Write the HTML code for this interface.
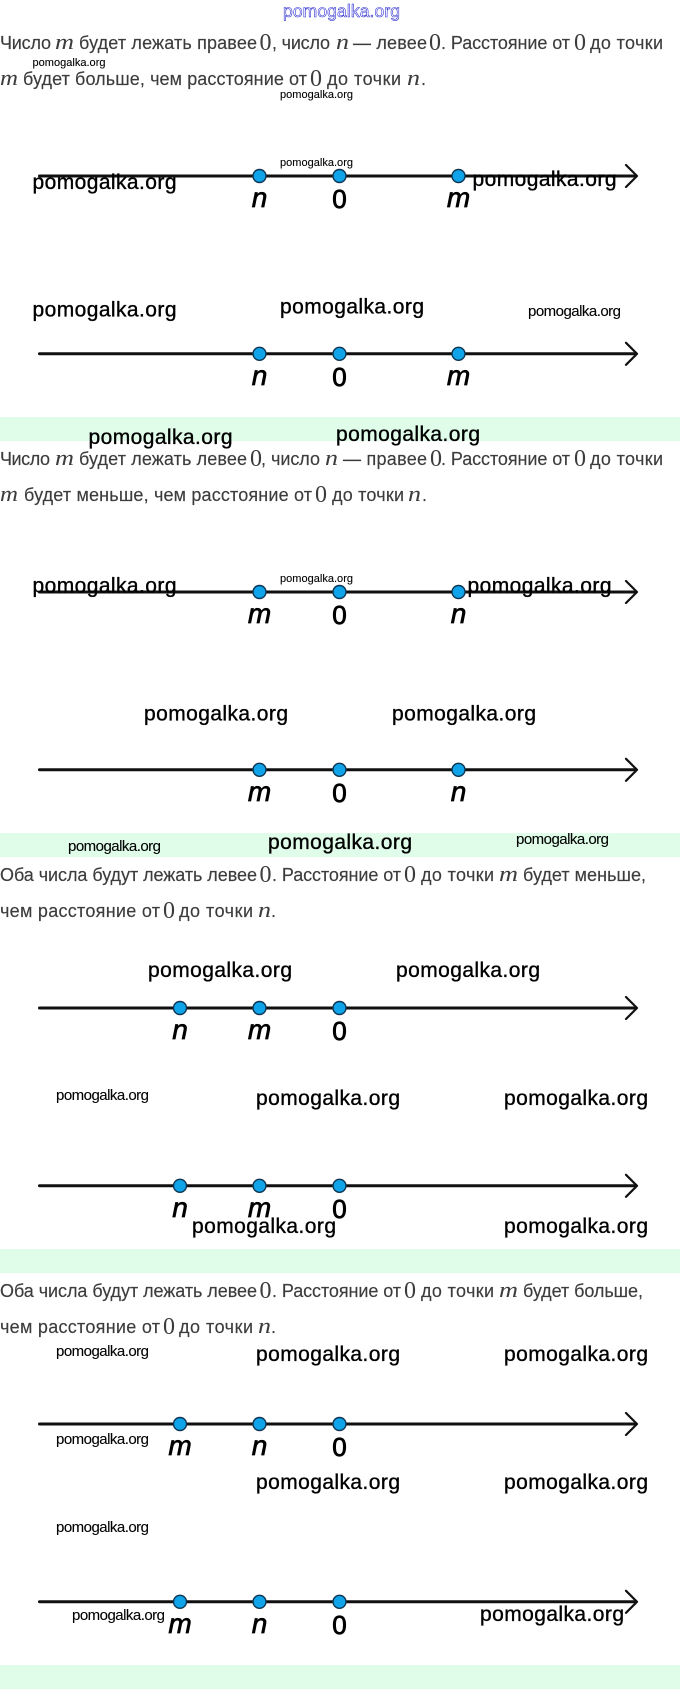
<!DOCTYPE html>
<html><head><meta charset="utf-8"><style>
html,body{margin:0;padding:0;background:#fff}
svg{display:block}
.t{font-family:"Liberation Sans",sans-serif;font-size:18px;fill:#3c3c3c;stroke:#3c3c3c;stroke-width:.15}
.m{font-family:"Liberation Serif",serif;font-size:22px;font-style:italic;fill:#3c3c3c}
.z{font-family:"Liberation Serif",serif;font-size:24px;fill:#3c3c3c}
.b{font-family:"Liberation Sans",sans-serif;font-size:21px;fill:#000;stroke:#000;stroke-width:.35}
.d{font-family:"Liberation Sans",sans-serif;font-size:15px;fill:#000;stroke:#000;stroke-width:.1}
.s{font-family:"Liberation Sans",sans-serif;font-size:11px;fill:#000;stroke:#000;stroke-width:.1}
.l{font-family:"Liberation Sans",sans-serif;font-size:28px;font-style:italic;fill:#000;text-anchor:middle;stroke:#000;stroke-width:.7}
.o{font-family:"Liberation Sans",sans-serif;font-size:26px;fill:#000;text-anchor:middle;stroke:#000;stroke-width:.8}
.a{fill:none;stroke:#111;stroke-width:3;stroke-linecap:round}
.h{fill:none;stroke:#111;stroke-width:2.2;stroke-linecap:round;stroke-linejoin:round}
.c{fill:#0fa3ea;stroke:#0d3550;stroke-width:1.4}
</style></head><body>
<svg xmlns="http://www.w3.org/2000/svg" width="680" height="1689" viewBox="0 0 680 1689">
<rect x="0" y="417" width="680" height="24" fill="#dffde9"/>
<rect x="0" y="833" width="680" height="24" fill="#dffde9"/>
<rect x="0" y="1249" width="680" height="24" fill="#dffde9"/>
<rect x="0" y="1665" width="680" height="24" fill="#dffde9"/>

<text x="283" y="17" font-family="Liberation Sans, sans-serif" font-size="17.5" fill="#fff" stroke="#2020d0" stroke-width=".55" textLength="117">pomogalka.org</text>

<!-- paragraph 1 -->
<text class="t" x="0" y="49" textLength="51">Число</text><text class="m" x="55" y="49" textLength="19" lengthAdjust="spacingAndGlyphs">m</text><text class="t" x="79" y="49" textLength="178">будет лежать правее</text><text class="z" x="259.5" y="50">0</text><text class="t" x="272" y="49" textLength="58">, число</text><text class="m" x="336" y="49" textLength="13" lengthAdjust="spacingAndGlyphs">n</text><text class="t" x="353" y="49" textLength="74">— левее</text><text class="z" x="429" y="50">0</text><text class="t" x="441" y="49" textLength="129">. Расстояние от</text><text class="z" x="574" y="50">0</text><text class="t" x="590" y="49" textLength="73">до точки</text>
<text class="m" x="0" y="85" textLength="18" lengthAdjust="spacingAndGlyphs">m</text><text class="t" x="23" y="85" textLength="284">будет больше, чем расстояние от</text><text class="z" x="310" y="86">0</text><text class="t" x="327" y="85" textLength="74">до точки</text><text class="m" x="407" y="85" textLength="13" lengthAdjust="spacingAndGlyphs">n</text><text class="t" x="421" y="85">.</text>

<!-- paragraph 2 -->
<text class="t" x="0" y="465" textLength="50">Число</text><text class="m" x="55" y="465" textLength="19" lengthAdjust="spacingAndGlyphs">m</text><text class="t" x="79" y="465" textLength="168">будет лежать левее</text><text class="z" x="250" y="466">0</text><text class="t" x="261" y="465" textLength="59">, число</text><text class="m" x="325" y="465" textLength="13" lengthAdjust="spacingAndGlyphs">n</text><text class="t" x="343" y="465" textLength="84">— правее</text><text class="z" x="430" y="466">0</text><text class="t" x="441" y="465" textLength="129">. Расстояние от</text><text class="z" x="574" y="466">0</text><text class="t" x="590" y="465" textLength="73">до точки</text>
<text class="m" x="0" y="501" textLength="18" lengthAdjust="spacingAndGlyphs">m</text><text class="t" x="24" y="501" textLength="288">будет меньше, чем расстояние от</text><text class="z" x="315" y="502">0</text><text class="t" x="332" y="501" textLength="72">до точки</text><text class="m" x="408" y="501" textLength="13" lengthAdjust="spacingAndGlyphs">n</text><text class="t" x="422" y="501">.</text>

<!-- paragraph 3 -->
<text class="t" x="0" y="881" textLength="257">Оба числа будут лежать левее</text><text class="z" x="259.5" y="882">0</text><text class="t" x="272" y="881" textLength="129">. Расстояние от</text><text class="z" x="404" y="882">0</text><text class="t" x="421" y="881" textLength="73">до точки</text><text class="m" x="499" y="881" textLength="19" lengthAdjust="spacingAndGlyphs">m</text><text class="t" x="523" y="881" textLength="123">будет меньше,</text>
<text class="t" x="0" y="917" textLength="160">чем расстояние от</text><text class="z" x="163" y="918">0</text><text class="t" x="179" y="917" textLength="74">до точки</text><text class="m" x="258" y="917" textLength="13" lengthAdjust="spacingAndGlyphs">n</text><text class="t" x="271" y="917">.</text>

<!-- paragraph 4 -->
<text class="t" x="0" y="1297" textLength="257">Оба числа будут лежать левее</text><text class="z" x="259.5" y="1298">0</text><text class="t" x="272" y="1297" textLength="129">. Расстояние от</text><text class="z" x="404" y="1298">0</text><text class="t" x="421" y="1297" textLength="73">до точки</text><text class="m" x="499" y="1297" textLength="19" lengthAdjust="spacingAndGlyphs">m</text><text class="t" x="523" y="1297" textLength="120">будет больше,</text>
<text class="t" x="0" y="1333" textLength="160">чем расстояние от</text><text class="z" x="163" y="1334">0</text><text class="t" x="179" y="1333" textLength="74">до точки</text><text class="m" x="258" y="1333" textLength="13" lengthAdjust="spacingAndGlyphs">n</text><text class="t" x="271" y="1333">.</text>

<!-- number lines -->
<g>
<line class="a" x1="39.5" y1="176" x2="636" y2="176"/><polyline class="h" points="626,165 637,176 626,187"/>
<circle class="c" cx="259.5" cy="176" r="6.5"/><circle class="c" cx="339.5" cy="176" r="6.5"/><circle class="c" cx="458.5" cy="176" r="6.5"/>
<text class="l" x="259.5" y="207">n</text><text class="o" x="339.5" y="208">0</text><text class="l" x="458.5" y="207">m</text>
</g>
<g>
<line class="a" x1="39.5" y1="353.8" x2="636" y2="353.8"/><polyline class="h" points="626,342.8 637,353.8 626,364.8"/>
<circle class="c" cx="259.5" cy="353.8" r="6.5"/><circle class="c" cx="339.5" cy="353.8" r="6.5"/><circle class="c" cx="458.5" cy="353.8" r="6.5"/>
<text class="l" x="259.5" y="385">n</text><text class="o" x="339.5" y="386">0</text><text class="l" x="458.5" y="385">m</text>
</g>
<g>
<line class="a" x1="39.5" y1="592" x2="636" y2="592"/><polyline class="h" points="626,581 637,592 626,603"/>
<circle class="c" cx="259.5" cy="592" r="6.5"/><circle class="c" cx="339.5" cy="592" r="6.5"/><circle class="c" cx="458.5" cy="592" r="6.5"/>
<text class="l" x="259.5" y="623">m</text><text class="o" x="339.5" y="624">0</text><text class="l" x="458.5" y="623">n</text>
</g>
<g>
<line class="a" x1="39.5" y1="769.8" x2="636" y2="769.8"/><polyline class="h" points="626,758.8 637,769.8 626,780.8"/>
<circle class="c" cx="259.5" cy="769.8" r="6.5"/><circle class="c" cx="339.5" cy="769.8" r="6.5"/><circle class="c" cx="458.5" cy="769.8" r="6.5"/>
<text class="l" x="259.5" y="801">m</text><text class="o" x="339.5" y="802">0</text><text class="l" x="458.5" y="801">n</text>
</g>
<g>
<line class="a" x1="39.5" y1="1008" x2="636" y2="1008"/><polyline class="h" points="626,997 637,1008 626,1019"/>
<circle class="c" cx="180" cy="1008" r="6.5"/><circle class="c" cx="259.5" cy="1008" r="6.5"/><circle class="c" cx="339.5" cy="1008" r="6.5"/>
<text class="l" x="180" y="1039">n</text><text class="l" x="259.5" y="1039">m</text><text class="o" x="339.5" y="1040">0</text>
</g>
<g>
<line class="a" x1="39.5" y1="1185.8" x2="636" y2="1185.8"/><polyline class="h" points="626,1174.8 637,1185.8 626,1196.8"/>
<circle class="c" cx="180" cy="1185.8" r="6.5"/><circle class="c" cx="259.5" cy="1185.8" r="6.5"/><circle class="c" cx="339.5" cy="1185.8" r="6.5"/>
<text class="l" x="180" y="1217">n</text><text class="l" x="259.5" y="1217">m</text><text class="o" x="339.5" y="1218">0</text>
</g>
<g>
<line class="a" x1="39.5" y1="1424" x2="636" y2="1424"/><polyline class="h" points="626,1413 637,1424 626,1435"/>
<circle class="c" cx="180" cy="1424" r="6.5"/><circle class="c" cx="259.5" cy="1424" r="6.5"/><circle class="c" cx="339.5" cy="1424" r="6.5"/>
<text class="l" x="180" y="1455">m</text><text class="l" x="259.5" y="1455">n</text><text class="o" x="339.5" y="1456">0</text>
</g>
<g>
<line class="a" x1="39.5" y1="1601.8" x2="636" y2="1601.8"/><polyline class="h" points="626,1590.8 637,1601.8 626,1612.8"/>
<circle class="c" cx="180" cy="1601.8" r="6.5"/><circle class="c" cx="259.5" cy="1601.8" r="6.5"/><circle class="c" cx="339.5" cy="1601.8" r="6.5"/>
<text class="l" x="180" y="1633">m</text><text class="l" x="259.5" y="1633">n</text><text class="o" x="339.5" y="1634">0</text>
</g>

<!-- watermarks -->
<text class="s" x="32.5" y="66" textLength="73">pomogalka.org</text>
<text class="s" x="280" y="98" textLength="73">pomogalka.org</text>
<text class="s" x="280" y="166" textLength="73">pomogalka.org</text>
<text class="b" x="32.5" y="189" textLength="144">pomogalka.org</text>
<text class="b" x="472.5" y="186" textLength="144">pomogalka.org</text>
<text class="b" x="32.5" y="316.5" textLength="144">pomogalka.org</text>
<text class="b" x="280" y="313.5" textLength="144">pomogalka.org</text>
<text class="d" x="528" y="316" textLength="93">pomogalka.org</text>
<text class="b" x="88.5" y="444" textLength="144">pomogalka.org</text>
<text class="b" x="336" y="441" textLength="144">pomogalka.org</text>
<text class="s" x="280" y="582" textLength="73">pomogalka.org</text>
<text class="b" x="32.5" y="592.5" textLength="144">pomogalka.org</text>
<text class="b" x="467.5" y="592.5" textLength="144">pomogalka.org</text>
<text class="b" x="144" y="720.5" textLength="144">pomogalka.org</text>
<text class="b" x="392" y="720.5" textLength="144">pomogalka.org</text>
<text class="d" x="68" y="851" textLength="93">pomogalka.org</text>
<text class="b" x="268" y="849" textLength="144">pomogalka.org</text>
<text class="d" x="516" y="844" textLength="93">pomogalka.org</text>
<text class="b" x="148" y="977" textLength="144">pomogalka.org</text>
<text class="b" x="396" y="977" textLength="144">pomogalka.org</text>
<text class="d" x="56" y="1100" textLength="93">pomogalka.org</text>
<text class="b" x="256" y="1105" textLength="144">pomogalka.org</text>
<text class="b" x="504" y="1105" textLength="144">pomogalka.org</text>
<text class="b" x="192" y="1233" textLength="144">pomogalka.org</text>
<text class="b" x="504" y="1233" textLength="144">pomogalka.org</text>
<text class="d" x="56" y="1356" textLength="93">pomogalka.org</text>
<text class="b" x="256" y="1361" textLength="144">pomogalka.org</text>
<text class="b" x="504" y="1361" textLength="144">pomogalka.org</text>
<text class="d" x="56" y="1444" textLength="93">pomogalka.org</text>
<text class="b" x="256" y="1489" textLength="144">pomogalka.org</text>
<text class="b" x="504" y="1489" textLength="144">pomogalka.org</text>
<text class="d" x="56" y="1532" textLength="93">pomogalka.org</text>
<text class="d" x="72" y="1620" textLength="93">pomogalka.org</text>
<text class="b" x="480" y="1621" textLength="144">pomogalka.org</text>
</svg>
</body></html>
